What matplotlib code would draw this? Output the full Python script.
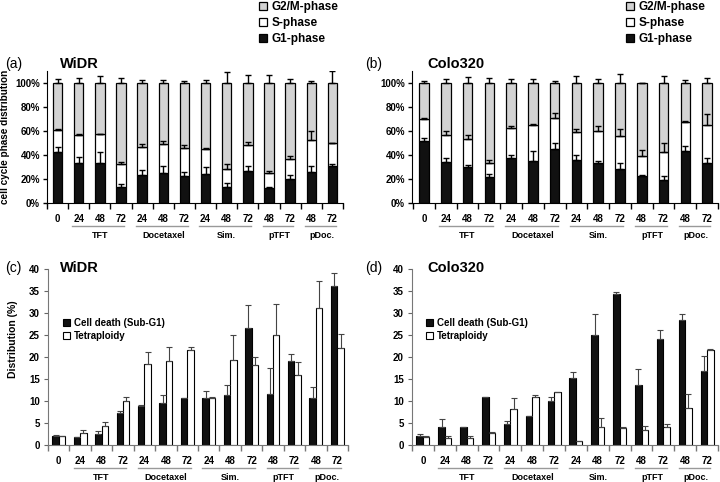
import numpy as np
import matplotlib
matplotlib.use("Agg")
import matplotlib.pyplot as plt
from matplotlib.transforms import blended_transform_factory

plt.rcParams['font.family'] = ['Liberation Sans', 'DejaVu Sans']

tick_labels = ["0", "24", "48", "72", "24", "48", "72", "24", "48", "72", "48", "72", "48", "72"]
groups = ["TFT", "Docetaxel", "Sim.", "pTFT", "pDoc."]
group_spans = [(1, 3), (4, 6), (7, 9), (10, 11), (12, 13)]

# ---- cell cycle (percent) ----
widr_g1 = [42.5, 33.2, 33.5, 13.7, 23.5, 25.4, 22.6, 24.0, 13.1, 26.5, 12.6, 20.4, 26.0, 30.7]
widr_g1_err = [4.0, 5.0, 9.0, 2.0, 3.6, 5.6, 3.0, 6.0, 3.6, 4.5, 0.5, 3.0, 4.5, 2.2]
widr_s = [18.7, 23.8, 23.8, 19.0, 22.9, 23.8, 23.5, 20.7, 15.4, 22.1, 12.8, 16.2, 26.2, 19.0]
widr_s_err = [0.5, 0.6, 0.5, 1.7, 2.5, 2.5, 2.2, 1.0, 3.9, 2.2, 1.4, 2.5, 7.5, 0.3]
widr_g2m_err = [3.0, 3.8, 5.5, 4.0, 2.7, 2.2, 1.6, 2.7, 8.8, 6.3, 6.3, 3.6, 1.9, 9.6]

colo_g1 = [51.4, 33.8, 29.6, 21.5, 37.4, 35.2, 44.7, 36.0, 33.2, 28.2, 22.3, 19.3, 43.6, 33.0]
colo_g1_err = [2.5, 3.9, 1.7, 2.5, 2.5, 8.4, 5.6, 4.2, 2.0, 5.0, 1.1, 2.8, 3.9, 4.7]
colo_s = [18.7, 22.9, 24.0, 12.0, 25.2, 30.2, 26.2, 22.9, 26.6, 27.4, 17.1, 22.9, 24.3, 32.4]
colo_s_err = [1.1, 3.4, 3.4, 2.2, 1.7, 0.3, 4.5, 3.1, 4.5, 6.4, 4.7, 7.8, 0.6, 8.4]
colo_g2m_err = [1.4, 3.6, 4.9, 4.1, 3.3, 3.3, 1.9, 5.8, 3.3, 7.1, 0.3, 5.8, 2.7, 4.4]

# ---- sub-G1 / tetraploidy (%) ----
widr_death = [2.0, 1.9, 2.5, 7.2, 8.8, 9.6, 10.7, 10.6, 11.3, 26.7, 11.6, 19.0, 10.6, 36.2]
widr_death_err = [0.2, 0.0, 0.7, 0.5, 0.4, 1.7, 0.0, 1.6, 2.3, 5.2, 5.8, 1.7, 2.5, 3.0]
widr_tetra = [2.0, 2.7, 4.3, 10.1, 18.4, 19.0, 21.7, 10.6, 19.3, 18.1, 25.0, 15.8, 31.2, 22.0]
widr_tetra_err = [0.0, 0.6, 1.0, 0.7, 2.8, 3.3, 0.5, 0.2, 5.7, 2.0, 7.1, 3.0, 6.0, 3.2]

colo_death = [2.1, 4.0, 4.0, 10.9, 4.7, 6.5, 10.1, 15.2, 25.0, 34.3, 13.6, 24.0, 28.3, 16.8]
colo_death_err = [0.3, 1.9, 0.2, 0.0, 0.8, 0.0, 0.7, 1.5, 4.7, 0.5, 3.7, 2.1, 1.5, 3.4]
colo_tetra = [1.8, 1.6, 1.6, 2.8, 8.1, 11.0, 12.0, 0.8, 4.2, 3.8, 3.3, 4.1, 8.3, 21.6]
colo_tetra_err = [0.2, 0.4, 0.4, 0.2, 2.5, 0.4, 0.1, 0.0, 1.9, 0.4, 1.1, 0.6, 3.2, 0.3]

W, H = 720, 482
fig = plt.figure(figsize=(7.2, 4.82), dpi=100)

def px_axes(left, top, right, bottom):
    return fig.add_axes([left / W, 1 - bottom / H, (right - left) / W, (bottom - top) / H])

LBL = dict(fontsize=7, fontweight='bold')

def setup_xaxis(ax, xlim, height_px):
    x = np.arange(len(tick_labels))
    ax.set_xlim(*xlim)
    ax.set_xticks(x)
    ax.set_xticklabels(tick_labels, **LBL)
    ax.tick_params(axis='x', which='major', length=0, pad=8)
    ax.set_xticks(np.arange(-0.5, len(tick_labels), 1.0), minor=True)
    ax.tick_params(axis='x', which='minor', length=4, width=1, direction='out')
    ax.spines['top'].set_visible(False)
    ax.spines['right'].set_visible(False)
    tr = blended_transform_factory(ax.transData, ax.transAxes)
    for name, (a, b) in zip(groups, group_spans):
        ax.plot([a - 0.3, b + 0.15], [-23 / height_px] * 2, color='#999999', lw=1,
                transform=tr, clip_on=False)
        ax.text((a + b) / 2, -32 / height_px, name, transform=tr, ha='center', va='center',
                fontsize=6.5, fontweight='bold')

def cycle_panel(ax, g1, g1e, s, s_err, g2e, xlim, height_px):
    x = np.arange(len(g1))
    g1 = np.array(g1); s = np.array(s)
    g2m = 100 - g1 - s
    wd = 0.44
    b1 = ax.bar(x, g1, wd, color='#111111', edgecolor='black', lw=0.9, label='G1-phase', zorder=2)
    b2 = ax.bar(x, s, wd, bottom=g1, color='white', edgecolor='black', lw=0.9, label='S-phase', zorder=2)
    b3 = ax.bar(x, g2m, wd, bottom=g1 + s, color='#d3d3d3', edgecolor='black', lw=0.9,
                label='G2/M-phase', zorder=2)
    z = np.zeros(len(x))
    ek = dict(fmt='none', ecolor='black', elinewidth=1, capsize=2.5, capthick=1, zorder=3)
    ax.errorbar(x, g1, yerr=[z, g1e], **ek)
    ax.errorbar(x, g1 + s, yerr=[z, s_err], **ek)
    ax.errorbar(x, g1 + s + g2m, yerr=[z, g2e], **ek)
    ax.set_ylim(0, 110)
    ax.set_yticks(np.arange(0, 101, 20))
    ax.set_yticklabels([f"{v}%" for v in range(0, 101, 20)], **LBL)
    ax.tick_params(axis='y', length=3, width=1, pad=2)
    setup_xaxis(ax, xlim, height_px)
    return [b3, b2, b1]

def death_panel(ax, d, de, t, te, xlim, height_px):
    x = np.arange(len(d))
    wd = 0.3
    b1 = ax.bar(x - wd / 2, d, wd, color='#111111', edgecolor='black', lw=0.8,
                label='Cell death (Sub-G1)', zorder=2)
    b2 = ax.bar(x + wd / 2, t, wd, color='white', edgecolor='black', lw=0.8,
                label='Tetraploidy', zorder=2)
    z = np.zeros(len(x))
    ek = dict(fmt='none', ecolor='#444444', elinewidth=0.8, capsize=2, capthick=0.8, zorder=3)
    ax.errorbar(x - wd / 2, d, yerr=[z, de], **ek)
    ax.errorbar(x + wd / 2, t, yerr=[z, te], **ek)
    ax.set_ylim(0, 40)
    ax.set_yticks(np.arange(0, 41, 5))
    ax.set_yticklabels([str(v) for v in range(0, 41, 5)], **LBL)
    ax.tick_params(axis='y', length=3, width=0.8, pad=3, color='#666666')
    setup_xaxis(ax, xlim, height_px)
    for sp in ('left', 'bottom'):
        ax.spines[sp].set_color('#777777')
    ax.tick_params(axis='x', which='minor', color='#777777')
    return [b1, b2]

# (a)
ax_a = px_axes(47, 71, 343, 203)
h_a = cycle_panel(ax_a, widr_g1, widr_g1_err, widr_s, widr_s_err, widr_g2m_err, (-0.47, 13.5), 132)
ax_a.set_ylabel("cell cycle phase distribution", fontsize=7.2, fontweight='bold')
ax_a.yaxis.set_label_coords(-0.125, 0.5)
# (b)
ax_b = px_axes(412, 71, 718, 203)
h_b = cycle_panel(ax_b, colo_g1, colo_g1_err, colo_s, colo_s_err, colo_g2m_err, (-0.55, 13.5), 132)
# (c)
ax_c = px_axes(48, 269, 348, 445)
h_c = death_panel(ax_c, widr_death, widr_death_err, widr_tetra, widr_tetra_err, (-0.47, 13.5), 176)
ax_c.set_ylabel("Distribution (%)", fontsize=7.5, fontweight='bold')
ax_c.yaxis.set_label_coords(-0.1, 0.6)
# (d)
ax_d = px_axes(412, 269, 718, 445)
h_d = death_panel(ax_d, colo_death, colo_death_err, colo_tetra, colo_tetra_err, (-0.46, 13.5), 176)

# titles
for lab, name, xl, xn, y in [("(a)", "WiDR", 5, 60, 64), ("(b)", "Colo320", 365, 427, 64),
                             ("(c)", "WiDR", 5, 60, 268), ("(d)", "Colo320", 365, 427, 268)]:
    fig.text(xl / W, 1 - y / H, lab, fontsize=10, va='center', ha='left')
    fig.text(xn / W, 1 - y / H, name, fontsize=10.5, fontweight='bold', va='center', ha='left')

# legends
for ax, handles, xpx in [(ax_a, h_a, 259), (ax_b, h_b, 626)]:
    ax.legend(handles=handles, labels=[h.get_label() for h in handles],
              loc='upper left', bbox_to_anchor=(xpx / W, 1 - 1 / H), bbox_transform=fig.transFigure,
              frameon=False, prop={'weight': 'bold', 'size': 8.5}, handlelength=0.7, handleheight=0.7,
              handletextpad=0.4, labelspacing=0.35, borderaxespad=0, borderpad=0)
for ax, handles, xpx in [(ax_c, h_c, 63), (ax_d, h_d, 426)]:
    ax.legend(handles=handles, labels=[h.get_label() for h in handles],
              loc='upper left', bbox_to_anchor=(xpx / W, 1 - 318 / H), bbox_transform=fig.transFigure,
              frameon=False, prop={'weight': 'bold', 'size': 7}, handlelength=0.7, handleheight=0.7,
              handletextpad=0.4, labelspacing=0.3, borderaxespad=0, borderpad=0)

fig.savefig("out.png", dpi=100)
